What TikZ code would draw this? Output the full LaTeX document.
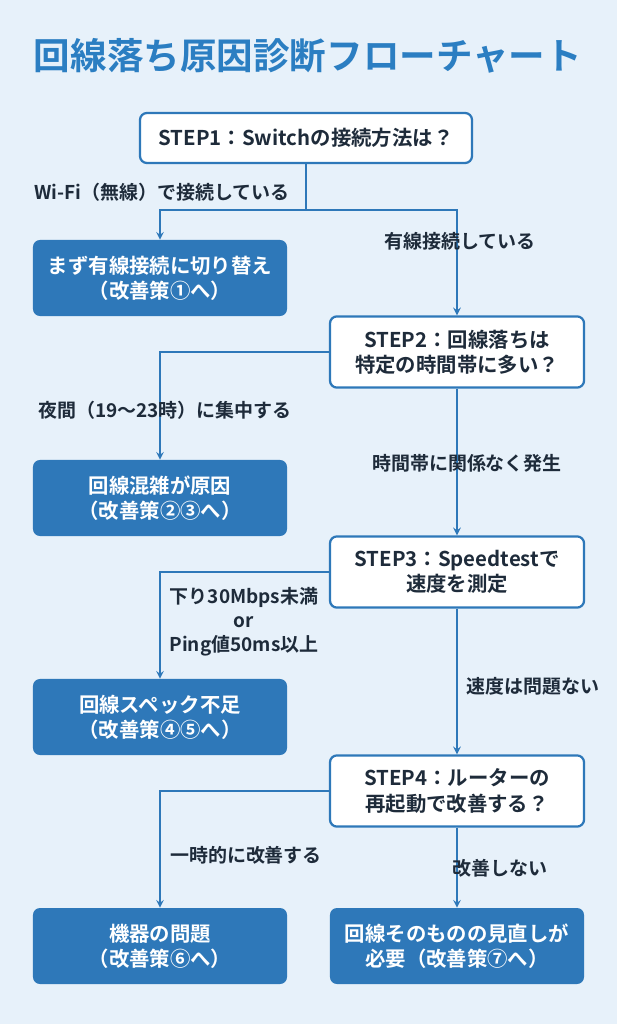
\documentclass[tikz,border=0pt]{standalone}
\usepackage{fontspec}
\setmainfont{Noto Sans CJK JP}[BoldFont={Noto Sans CJK JP Bold}]
\usetikzlibrary{positioning}
\definecolor{bgblue}{HTML}{E7F1FA}
\definecolor{mainblue}{HTML}{2E78B9}
\definecolor{titleblue}{HTML}{2B7EC2}
\definecolor{textdark}{HTML}{1E2B3A}

\tikzset{
  stepbox/.style={draw=mainblue, line width=1.6pt, fill=white, rounded corners=5pt,
    text=textdark, font=\bfseries\fontsize{14.5}{18}\selectfont, align=center,
    minimum width=6.35cm, minimum height=1.78cm},
  result/.style={fill=mainblue, rounded corners=5pt, text=white,
    font=\bfseries\fontsize{14.5}{18}\selectfont, align=center,
    minimum width=6.35cm, minimum height=1.9cm},
  lbl/.style={text=textdark, font=\bfseries\fontsize{13.5}{17}\selectfont, align=center},
  link/.style={draw=mainblue, line width=1.4pt},
  arr/.style={link, -stealth}
}

\begin{document}
\begin{tikzpicture}[x=0.025cm, y=-0.025cm]
\fill[bgblue] (0,0) rectangle (617,1024);
\useasboundingbox (0,0) rectangle (617,1024);

% タイトル
\node[text=titleblue, font=\bfseries\fontsize{26}{30}\selectfont] (title) at (308,56) {回線落ち原因診断フローチャート};

% 判断ボックス
\node[stepbox, minimum width=8.3cm, minimum height=1.25cm] (s1) at (306,138) {STEP1：Switchの接続方法は？};
\node[stepbox] (s2) at (457,352) {STEP2：回線落ちは\\特定の時間帯に多い？};
\node[stepbox] (s3) at (457,572) {STEP3：Speedtestで\\速度を測定};
\node[stepbox] (s4) at (457,791) {STEP4：ルーターの\\再起動で改善する？};

% 結果ボックス
\node[result] (r1) at (160,278) {まず有線接続に切り替え\\（改善策①へ）};
\node[result] (r2) at (160,498) {回線混雑が原因\\（改善策②③へ）};
\node[result] (r3) at (160,717) {回線スペック不足\\（改善策④⑤へ）};
\node[result] (r4) at (160,946) {機器の問題\\（改善策⑥へ）};
\node[result] (r5) at (457,946) {回線そのものの見直しが\\必要（改善策⑦へ）};

% STEP1 の分岐
\coordinate (b1) at (306,210);
\draw[link] (s1.south) -- (b1);
\draw[arr] (b1) -| (r1.north);
\draw[arr] (b1) -| (s2.north);
\node[lbl] (l1a) at (162,192) {Wi-Fi（無線）で接続している};
\node[lbl] (l1b) at (460,241) {有線接続している};

% STEP2 の分岐
\draw[arr] (s2.west) -| (r2.north);
\draw[arr] (s2.south) -- (s3.north);
\node[lbl] (l2a) at (165,410) {夜間（19〜23時）に集中する};
\node[lbl] (l2b) at (467,463) {時間帯に関係なく発生};

% STEP3 の分岐
\draw[arr] (s3.west) -| (r3.north);
\draw[arr] (s3.south) -- (s4.north);
\node[lbl] (l3a) at (244,622) {下り30Mbps未満\\or\\Ping値50ms以上};
\node[lbl] (l3b) at (533,686) {速度は問題ない};

% STEP4 の分岐
\draw[arr] (s4.west) -| (r4.north);
\draw[arr] (s4.south) -- (r5.north);
\node[lbl] (l4a) at (246,855) {一時的に改善する};
\node[lbl] (l4b) at (500,868) {改善しない};
\end{tikzpicture}
\end{document}
